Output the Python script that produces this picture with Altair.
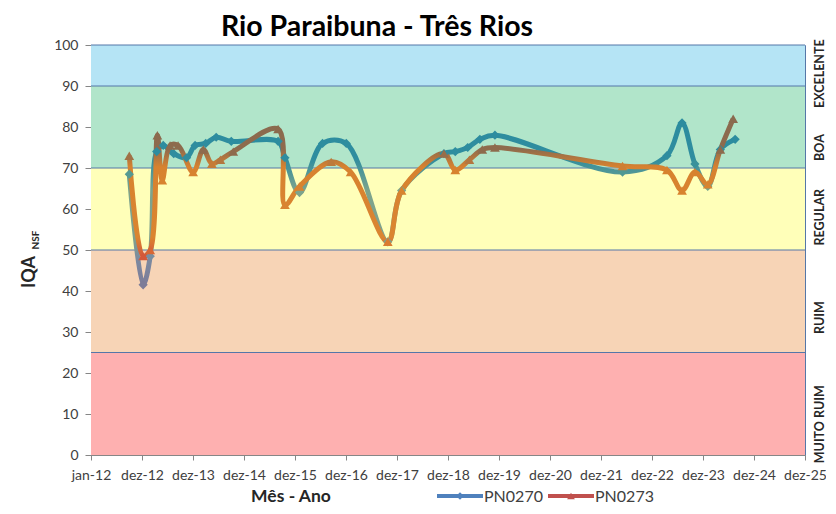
import json
import altair as alt
import pandas as pd

# ---------------- data ----------------
PN0270_DATES = ["2012-10-01", "2013-01-08", "2013-02-28", "2013-04-15", "2013-06-01",
                "2013-08-15", "2013-11-15", "2014-01-15", "2014-04-01", "2014-06-15",
                "2014-10-01", "2015-09-01", "2015-10-20", "2016-02-01", "2016-07-15",
                "2017-01-01", "2017-10-25", "2018-02-01", "2018-12-01", "2019-02-20",
                "2019-05-20", "2019-08-15", "2019-12-01", "2022-06-01", "2023-04-15",
                "2023-08-01", "2023-11-01", "2024-02-01", "2024-05-01", "2024-08-15"]
PN0270_VALUES = [68.5, 41.5, 48.5, 74, 75.5,
                 73.5, 72.5, 75.5, 76, 77.5,
                 76.5, 76.5, 72.5, 64, 76,
                 76, 52, 64.5, 73.5, 74,
                 75, 77, 78, 69, 73,
                 81, 71, 65.5, 74.5, 77]

PN0273_DATES = ["2012-10-01", "2013-01-08", "2013-02-28", "2013-04-20", "2013-05-25",
                "2013-07-20", "2013-09-15", "2014-01-01", "2014-03-15", "2014-05-15",
                "2014-07-15", "2014-10-15", "2015-09-01", "2015-10-20", "2016-02-01",
                "2016-09-15", "2017-02-01", "2017-10-25", "2018-02-01", "2018-12-01",
                "2019-02-20", "2019-06-01", "2019-09-01", "2019-12-01", "2022-06-01",
                "2023-04-15", "2023-08-01", "2023-11-01", "2024-02-01", "2024-05-01",
                "2024-08-01"]
PN0273_VALUES = [73, 48.5, 50, 78, 67,
                 75.5, 75.5, 69, 74.5, 71,
                 72, 74, 79.5, 61, 65.5,
                 71.5, 69, 52, 64.5, 73.5,
                 69.5, 72, 74.5, 75, 70.5,
                 69.5, 64.5, 69, 66, 74.5,
                 82]

XTICK_LABELS = ["jan-12", "dez-12", "dez-13", "dez-14", "dez-15", "dez-16", "dez-17",
                "dez-18", "dez-19", "dez-20", "dez-21", "dez-22", "dez-23", "dez-24", "dez-25"]

BAND_LOW = [0, 25, 50, 70, 90]
BAND_HIGH = [25, 50, 70, 90, 100]
BAND_COLORS = ["#FEB0B0", "#F7D4B6", "#FFFFB9", "#B1E5CA", "#B5E4F5"]
BAND_NAMES = ["MUITO RUIM", "RUIM", "REGULAR", "BOA", "EXCELENTE"]
BAND_LABEL_POS = [7.5, 33.5, 58, 75, 93]

W, H = 714, 410
ORIGIN = pd.Timestamp("2012-01-01")


def frame(dates, values):
    d = pd.to_datetime(pd.Series(dates))
    return pd.DataFrame({"t": (d - ORIGIN).dt.days / 365.0, "v": values})


df70 = frame(PN0270_DATES, PN0270_VALUES)
df73 = frame(PN0273_DATES, PN0273_VALUES)
bands = pd.DataFrame({"lo": BAND_LOW, "hi": BAND_HIGH, "c": BAND_COLORS,
                      "name": BAND_NAMES, "pos": BAND_LABEL_POS})

label_expr = json.dumps(XTICK_LABELS) + "[round(datum.value)]"

xscale = alt.Scale(domain=[0, 14], nice=False, zero=False)
yscale = alt.Scale(domain=[0, 100], nice=False)

x_enc = alt.X("t:Q", scale=xscale,
              axis=alt.Axis(values=list(range(15)), labelExpr=label_expr, title=None,
                            grid=False, domain=True, domainColor="#868686",
                            tickColor="#868686", tickSize=5, labelFont="Lato",
                            labelFontSize=14, labelColor="#404040", labelPadding=8,
                            labelOverlap=False, labelFlush=False))
y_axis = alt.Axis(values=list(range(0, 101, 10)), title=None, grid=False,
                  domainColor="#868686", tickColor="#868686", tickSize=6,
                  labelFont="Lato", labelFontSize=14, labelColor="#404040",
                  labelPadding=7)

band_rects = alt.Chart(bands).mark_rect().encode(
    x=alt.value(0), x2=alt.value(W),
    y=alt.Y("lo:Q", scale=yscale, axis=y_axis), y2="hi:Q",
    color=alt.Color("c:N", scale=None))

band_lines = alt.Chart(bands).mark_rule(color="#5577A8", strokeWidth=1).encode(
    x=alt.value(0), x2=alt.value(W), y=alt.Y("hi:Q", scale=yscale))

band_text = alt.Chart(bands).mark_text(
    angle=270, font="Lato", fontWeight="bold", fontSize=12.5, color="#262626",
    baseline="middle"
).encode(x=alt.value(W + 15), y=alt.Y("pos:Q", scale=yscale), text="name:N")

grad70 = alt.LinearGradient(
    gradient="linear", x1=0, x2=0, y1=0, y2=1,
    stops=[alt.GradientStop(color="#2C8C9F", offset=0.0),
           alt.GradientStop(color="#2F8D9F", offset=0.22),
           alt.GradientStop(color="#7DA48C", offset=0.42),
           alt.GradientStop(color="#80A08C", offset=0.72),
           alt.GradientStop(color="#7C8AA0", offset=0.84),
           alt.GradientStop(color="#7D7C98", offset=1.0)])
grad73 = alt.LinearGradient(
    gradient="linear", x1=0, x2=0, y1=0, y2=1,
    stops=[alt.GradientStop(color="#8A6A4F", offset=0.0),
           alt.GradientStop(color="#8E6B4D", offset=0.22),
           alt.GradientStop(color="#D7822F", offset=0.35),
           alt.GradientStop(color="#DA8530", offset=0.86),
           alt.GradientStop(color="#D4583A", offset=1.0)])

line70 = alt.Chart(df70).mark_line(interpolate="catmull-rom", strokeWidth=5,
                                   stroke=grad70).encode(
    x=x_enc, y=alt.Y("v:Q", scale=yscale))
line73 = alt.Chart(df73).mark_line(interpolate="catmull-rom", strokeWidth=5,
                                   stroke=grad73).encode(
    x=x_enc, y=alt.Y("v:Q", scale=yscale))

pts70 = alt.Chart(df70).mark_point(shape="diamond", filled=True, size=85, opacity=1).encode(
    x=x_enc, y=alt.Y("v:Q", scale=yscale),
    color=alt.Color("v:Q", legend=None,
                    scale=alt.Scale(domain=[41.5, 48, 52, 65, 72, 81],
                                    range=["#7D7C98", "#7C8AA0", "#80A08C", "#7DA48C",
                                           "#2F8D9F", "#2C8C9F"])))
pts73 = alt.Chart(df73).mark_point(shape="triangle-up", filled=True, size=95, opacity=1).encode(
    x=x_enc, y=alt.Y("v:Q", scale=yscale),
    color=alt.Color("v:Q", legend=None,
                    scale=alt.Scale(domain=[48.5, 53, 70, 74, 82],
                                    range=["#D4583A", "#DA8530", "#D7822F", "#8E6B4D",
                                           "#8A6A4F"])))

# titles and legend drawn as text/marks
title = alt.Chart(pd.DataFrame({"s": ["Rio Paraibuna - Três Rios"]})).mark_text(
    font="Lato", fontWeight="bold", fontSize=28.5, color="#000000", baseline="alphabetic"
).encode(x=alt.value(286), y=alt.value(-9), text="s:N")

xtitle = alt.Chart(pd.DataFrame({"s": ["Mês - Ano"]})).mark_text(
    font="Lato", fontWeight="bold", fontSize=17.5, color="#262626", baseline="alphabetic"
).encode(x=alt.value(200), y=alt.value(457), text="s:N")

ytitle = alt.Chart(pd.DataFrame({"s": ["IQA"]})).mark_text(
    font="Lato", fontWeight="bold", fontSize=18, color="#262626", angle=270,
    baseline="middle"
).encode(x=alt.value(-61), y=alt.value(227), text="s:N")
ysub = alt.Chart(pd.DataFrame({"s": ["NSF"]})).mark_text(
    font="Lato", fontWeight="bold", fontSize=10, color="#262626", angle=270,
    baseline="middle"
).encode(x=alt.value(-55), y=alt.value(195), text="s:N")

LEG_NAMES = ["PN0270", "PN0273"]
LEG_COLORS = ["#4F81BD", "#C0504D"]
leg_df = pd.DataFrame({"name": LEG_NAMES, "c": LEG_COLORS,
                       "x0": [346, 457], "shape": ["diamond", "triangle-up"]})
leg_lines = alt.Chart(leg_df).mark_rule(strokeWidth=4).encode(
    x=alt.X("x0:Q", scale=None), x2=alt.X2("x1:Q"), y=alt.value(451),
    color=alt.Color("c:N", scale=None)).transform_calculate(x1="datum.x0 + 46")
leg_pts = alt.Chart(leg_df).mark_point(filled=True, size=60, opacity=1).encode(
    x=alt.X("xm:Q", scale=None), y=alt.value(451),
    shape=alt.Shape("shape:N", scale=None),
    color=alt.Color("c:N", scale=None)).transform_calculate(xm="datum.x0 + 23")
leg_text = alt.Chart(leg_df).mark_text(
    font="Lato", fontSize=16, color="#404040", align="left", baseline="alphabetic"
).encode(x=alt.X("xt:Q", scale=None), y=alt.value(457), text="name:N"
         ).transform_calculate(xt="datum.x0 + 47")

chart = alt.layer(
    band_rects, band_lines, line70, line73, pts70, pts73, band_text,
    title, xtitle, ytitle, ysub, leg_lines, leg_pts, leg_text
).resolve_scale(color="independent", shape="independent").properties(
    width=W, height=H,
    autosize=alt.AutoSizeParams(type="none"),
    padding={"left": 83, "top": 37, "right": 21, "bottom": 51},
    background="#FFFFFF"
).configure_view(stroke="#5577A8", strokeWidth=1)

chart.save("out.html", embed_options={"renderer": "svg", "actions": False})
